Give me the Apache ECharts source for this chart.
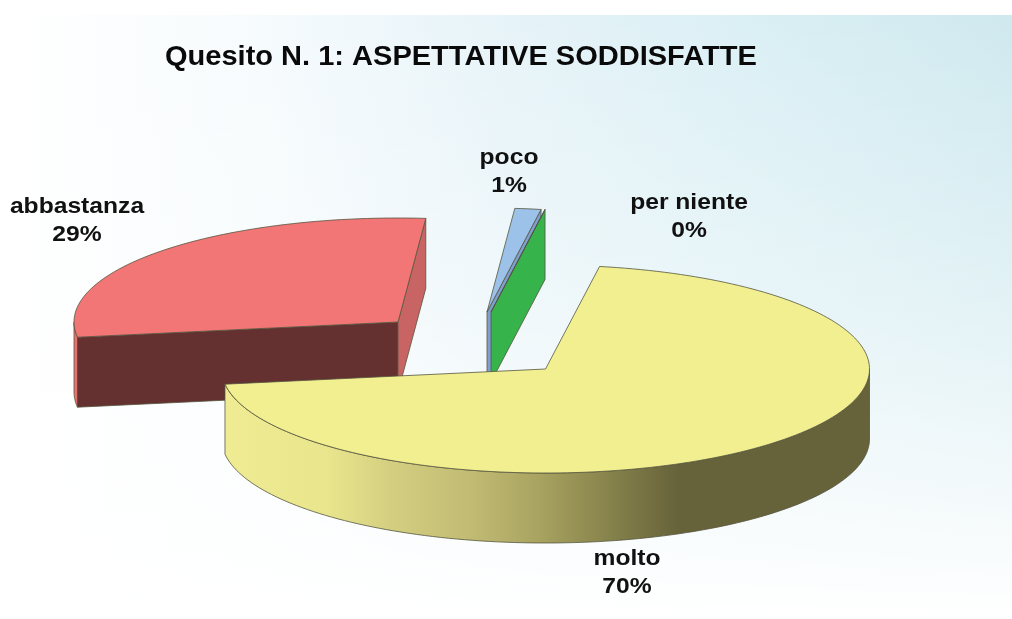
<!DOCTYPE html>
<html>
<head>
<meta charset="utf-8">
<style>html,body{margin:0;padding:0;background:#fff}#c{width:1012px;height:619px}</style>
<script src="https://cdn.jsdelivr.net/npm/echarts@6/dist/echarts.min.js"></script>
</head>
<body>
<div id="c"></div>
<script>
// Data (drawing order is back to front)
var categories = ['abbastanza', 'poco', 'per niente', 'molto'];
var values = [28.7, 1.3, 0, 70];
var chartTitle = 'Quesito N. 1: ASPETTATIVE SODDISFATTE';

// Layout and styling
var FONT = '"Liberation Sans", Arial, sans-serif';
var FIRST_ANGLE = 261.6;            // degrees clockwise from the top of the ellipse
var RX = 324, RY = 104, DEPTH = 70;
var EDGE = '#55553f';
var layout = {
  'abbastanza': {cx: 398, cy: 322, top: '#f37676', rim: '#ec7272', startWall: '#643030', endWall: '#c86464', lx: 77, ly: 221},
  'poco':       {cx: 487, cy: 312, top: '#9dc2e9', endWall: '#7f9fd0', lx: 509, ly: 172},
  'per niente': {cx: 491, cy: 312, top: '#7f9fd0', endWall: '#36b34a', lx: 689, ly: 217},
  'molto':      {cx: 545.5, cy: 369, top: '#f1ef90', lx: 627, ly: 573}
};
var wallStops = [
  {offset: 0, color: '#efec93'}, {offset: 0.164, color: '#e9e58d'}, {offset: 0.27, color: '#d2cd7f'},
  {offset: 0.38, color: '#c2bc74'}, {offset: 0.49, color: '#a8a360'}, {offset: 0.58, color: '#8c884f'},
  {offset: 0.706, color: '#66623a'}, {offset: 1, color: '#66623a'}
];

var total = values.reduce(function (a, b) { return a + b; }, 0);
function pt(cx, cy, deg) {
  var r = deg * Math.PI / 180;
  return [cx + RX * Math.sin(r), cy - RY * Math.cos(r)];
}
function arc(cx, cy, a, b) {
  var n = Math.max(2, Math.ceil(Math.abs(b - a) / 1.5)), out = [];
  for (var i = 0; i <= n; i++) out.push(pt(cx, cy, a + (b - a) * i / n));
  return out;
}
function poly(points, fill, z2) {
  return {type: 'polygon', z2: z2, shape: {points: points},
    style: {fill: fill, stroke: EDGE, lineWidth: 0.8, lineJoin: 'round'}};
}
function wall(cx, cy, a, b, fill, z2) {
  var topEdge = arc(cx, cy, a, b);
  var lower = arc(cx, cy + DEPTH, a, b).reverse();
  return poly(topEdge.concat(lower), fill, z2);
}
function cutWall(cx, cy, ang, fill, z2) {
  var p = pt(cx, cy, ang);
  return poly([[cx, cy], p, [p[0], p[1] + DEPTH], [cx, cy + DEPTH]], fill, z2);
}

function renderItem(params, api) {
  var i = params.dataIndex, name = categories[i], L = layout[name], v = api.value(0);
  var before = 0;
  for (var k = 0; k < i; k++) before += values[k];
  var a = FIRST_ANGLE + before / total * 360;
  var b = a + v / total * 360;
  var base = i * 10, kids = [];
  if (name === 'abbastanza') {
    kids.push(wall(L.cx, L.cy, a, 270, L.rim, base + 1));
    var s = pt(L.cx, L.cy, a);
    kids.push(poly([[L.cx, L.cy], s, [s[0], s[1] + DEPTH], [L.cx, L.cy + DEPTH]], L.startWall, base + 2));
    kids.push(cutWall(L.cx, L.cy, b, L.endWall, base + 2));
  } else if (name === 'molto') {
    kids.push(wall(L.cx, L.cy, 90, b - 360 < 0 ? b : b - 360,
      new echarts.graphic.LinearGradient(L.cx - RX, 0, L.cx + RX, 0, wallStops, true), base + 1));
  } else {
    kids.push(cutWall(L.cx, L.cy, b, L.endWall, base + 1));
  }
  kids.push(poly([[L.cx, L.cy]].concat(arc(L.cx, L.cy, a, b)), L.top, base + 3));
  kids.push({type: 'text', z2: 100, x: L.lx, y: L.ly, scaleX: 1.12, style: {
    text: name + '\n' + Math.round(v) + '%', x: 0, y: 0, align: 'center', verticalAlign: 'middle',
    fontFamily: FONT, fontWeight: 'bold', fontSize: 22, lineHeight: 27.5, fill: '#111'}});
  return {type: 'group', children: kids};
}

var chart = echarts.init(document.getElementById('c'), null, {renderer: 'canvas'});
chart.setOption({
  animation: false,
  backgroundColor: '#ffffff',
  graphic: [
    {type: 'rect', z: 0, silent: true, shape: {x: 13, y: 15, width: 999, height: 604}, style: {
      fill: new echarts.graphic.LinearGradient(13, 0, 1012, 0, [
        {offset: 0, color: '#ffffff'}, {offset: 0.25, color: '#f6fbfd'},
        {offset: 0.5, color: '#e6f3f8'}, {offset: 0.7, color: '#dcf0f5'}, {offset: 1, color: '#cfe9ef'}], true)}},
    {type: 'rect', z: 0, silent: true, shape: {x: 13, y: 15, width: 999, height: 604}, style: {
      fill: new echarts.graphic.LinearGradient(0, 15, 0, 619, [
        {offset: 0, color: 'rgba(255,255,255,0)'}, {offset: 0.47, color: 'rgba(255,255,255,0.4)'},
        {offset: 0.88, color: 'rgba(255,255,255,0.85)'}, {offset: 1, color: 'rgba(255,255,255,1)'}], true)}},
    {type: 'text', z: 5, x: 165, y: 57.5, scaleX: 1.075, style: {
      text: chartTitle, x: 0, y: 0, align: 'left', verticalAlign: 'middle',
      fontFamily: FONT, fontWeight: 'bold', fontSize: 27, fill: '#0a0a0a'}}
  ],
  series: [{
    type: 'custom', coordinateSystem: 'none', silent: true,
    renderItem: renderItem,
    data: values.map(function (v, i) { return {name: categories[i], value: [v]}; })
  }]
});
</script>
</body>
</html>
